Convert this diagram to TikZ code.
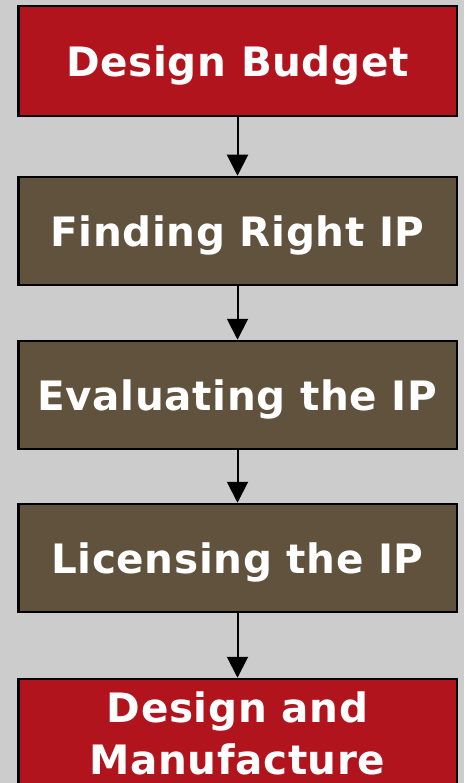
\documentclass[tikz,border=0pt]{standalone}
\usepackage{fontspec}
\setsansfont{DejaVu Sans}[LetterSpace=1.5]
\usetikzlibrary{arrows.meta}
\definecolor{boxred}{RGB}{178,20,30}
\definecolor{boxbrown}{RGB}{96,82,60}
\definecolor{bggrey}{RGB}{204,204,204}
\tikzset{
  stepbox/.style={draw=black, line width=2.5pt, minimum width=438.5pt,
    minimum height=108pt, inner sep=0pt, align=center, text=white,
    text depth=0pt, font=\sffamily\bfseries\fontsize{40.5}{52}\selectfont},
  redbox/.style={stepbox, fill=boxred},
  brownbox/.style={stepbox, fill=boxbrown},
  flow/.style={-{Triangle[width=21pt,length=21pt]}, line width=2pt}
}

\begin{document}
\begin{tikzpicture}[x=1pt,y=-1pt]
% Draw background
\fill[bggrey] (0,0) rectangle (464,783);
\useasboundingbox (0,0) rectangle (464,783);
% Draw boxes
\node[redbox, minimum height=110pt] (budget) at (237.5,61) {Design Budget};
\node[brownbox] (finding) at (237.5,231) {Finding Right IP};
\node[brownbox] (evaluating) at (237.5,395) {Evaluating the IP};
\node[brownbox] (licensing) at (237.5,558) {Licensing the IP};
\node[redbox] (manufacture) at (237.5,733) {Design and\\Manufacture};
% Draw arrows
\draw[flow] (budget) -- (finding);
\draw[flow] (finding) -- (evaluating);
\draw[flow] (evaluating) -- (licensing);
\draw[flow] (licensing) -- (manufacture);
\end{tikzpicture}
\end{document}
